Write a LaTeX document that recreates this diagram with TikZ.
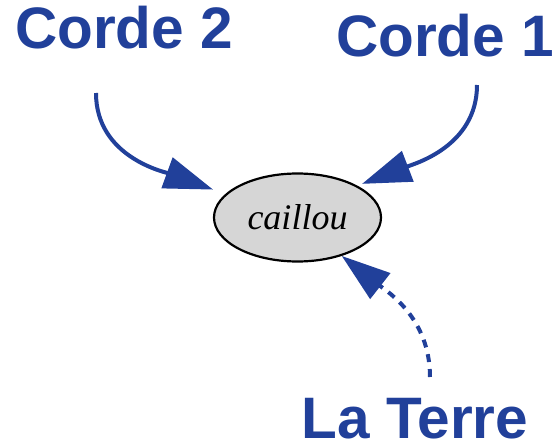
\documentclass[tikz,border=0pt]{standalone}
\usepackage{fontspec}
\setmainfont{Liberation Serif}
\setsansfont{Liberation Sans}
\usetikzlibrary{shapes.geometric}
\usetikzlibrary{arrows.meta}

\definecolor{cordeblue}{RGB}{33,64,154}
\definecolor{stonegray}{RGB}{214,214,214}

\begin{document}
\begin{tikzpicture}[x=1pt, y=-1pt,
  force/.style={color=cordeblue, line width=4pt, -{Triangle[length=49pt, width=32pt]}},
  forcelabel/.style={color=cordeblue, inner sep=0pt, anchor=base,
    font=\sffamily\bfseries\fontsize{58.5}{64}\selectfont},
  stone/.style={ellipse, draw=black, line width=2.2pt, fill=stonegray,
    minimum width=167pt, minimum height=88pt, inner sep=0pt,
    font=\itshape\fontsize{36}{40}\selectfont}]

\useasboundingbox (0, 0) rectangle (558, 445);

%Draw the stone
\node[stone] (caillou) at (297.5, 217.5) {caillou};

%Draw labels
\node[forcelabel] (corde2) at (124, 48) {Corde 2};
\node[forcelabel] (corde1) at (445, 56) {Corde 1};
\node[forcelabel] (terre) at (415, 438) {La Terre};

%Start of each force
\coordinate (from2) at (96, 93);
\coordinate (from1) at (477, 85);
\coordinate (fromT) at (430, 377);

%Draw forces
\draw[force, shorten >=13pt] (from2) to[out=-90, in=160] (caillou.162);
\draw[force, shorten >=5pt] (from1) to[out=-90, in=21] (caillou.28.9);
\draw[force, dash pattern=on 8pt off 7pt] (fromT) to[out=90, in=-38] (caillou.-41.4);

\end{tikzpicture}
\end{document}
